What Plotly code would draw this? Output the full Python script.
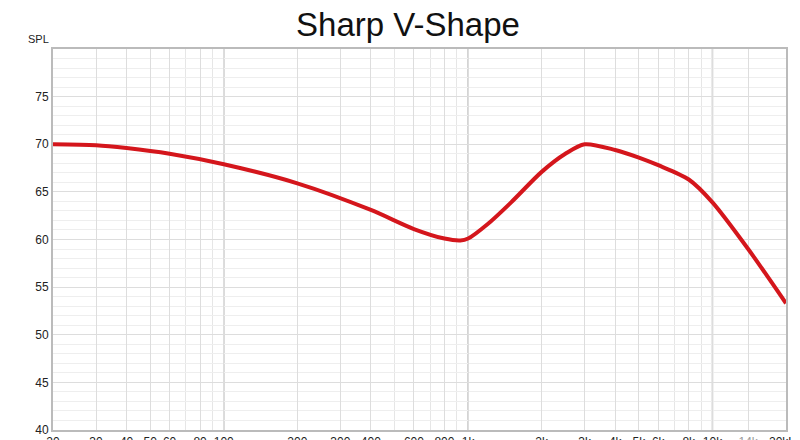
import plotly.graph_objects as go

freq = [20, 30, 40, 60, 100, 200, 400, 600, 800, 930, 1000, 1200, 1500, 2000, 2500, 3000, 4000, 5000, 6000, 8000, 10000, 14000, 20000]
spl = [70.0, 69.9, 69.6, 69.0, 67.9, 65.9, 63.1, 61.1, 60.1, 59.9, 60.1, 61.6, 63.9, 67.1, 69.0, 70.0, 69.4, 68.6, 67.8, 66.3, 63.9, 59.0, 53.3]

xtick_vals = [20, 30, 40, 50, 60, 80, 100, 200, 300, 400, 600, 800, 1000, 2000, 3000, 4000, 5000, 6000, 8000, 10000, 14000, 20000]
xtick_text = ["20", "30", "40", "50", "60", "80", "100", "200", "300", "400", "600", "800", "1k", "2k", "3k", "4k", "5k", "6k", "8k", "10k", "<span style='color:#999'>14k</span>", "20kHz"]
minor_vals = [m * d for d in [10, 100, 1000, 10000] for m in range(1, 10) if 20 <= m * d <= 20000]
decades = [100, 1000, 10000]
ytick_vals = [40, 45, 50, 55, 60, 65, 70, 75]

fig = go.Figure(go.Scatter(x=freq, y=spl, mode="lines", line=dict(color="#d4161c", width=4, shape="spline", smoothing=0.8), hoverinfo="skip"))
for d in decades:
    fig.add_shape(type="line", x0=d, x1=d, y0=0, y1=1, xref="x", yref="paper", line=dict(color="#bbbbbb", width=1.5), layer="below")

fig.update_layout(
    width=800, height=440, plot_bgcolor="white", paper_bgcolor="white",
    margin=dict(l=45, r=22, t=41, b=18), showlegend=False,
    font=dict(family="Liberation Sans, Arial", color="#222", size=12),
    title=dict(text="Sharp V-Shape", x=0.5, xanchor="center", y=0.99, yanchor="top", font=dict(size=33, color="#111")),
    xaxis=dict(type="log", range=[1.30103, 4.30103], tickvals=xtick_vals, ticktext=xtick_text, automargin=False,
               showgrid=True, gridcolor="#dddddd", gridwidth=1, ticks="", showline=True, linecolor="#bbbbbb", linewidth=2, mirror=True,
               minor=dict(tickvals=minor_vals, showgrid=True, gridcolor="#e6e6e6", gridwidth=1), zeroline=False, tickfont=dict(size=12)),
    yaxis=dict(range=[40, 80], tickvals=ytick_vals, showgrid=True, gridcolor="#dddddd", ticks="", automargin=False,
               showline=True, linecolor="#bbbbbb", linewidth=2, mirror=True,
               minor=dict(dtick=1, showgrid=True, gridcolor="#eeeeee"), zeroline=False, tickfont=dict(size=12)),
    annotations=[dict(text="SPL", xref="paper", yref="paper", x=0, y=1, xanchor="right", yanchor="bottom", xshift=-2, yshift=2, showarrow=False, font=dict(size=11))],
)
fig.write_html("out.html")
